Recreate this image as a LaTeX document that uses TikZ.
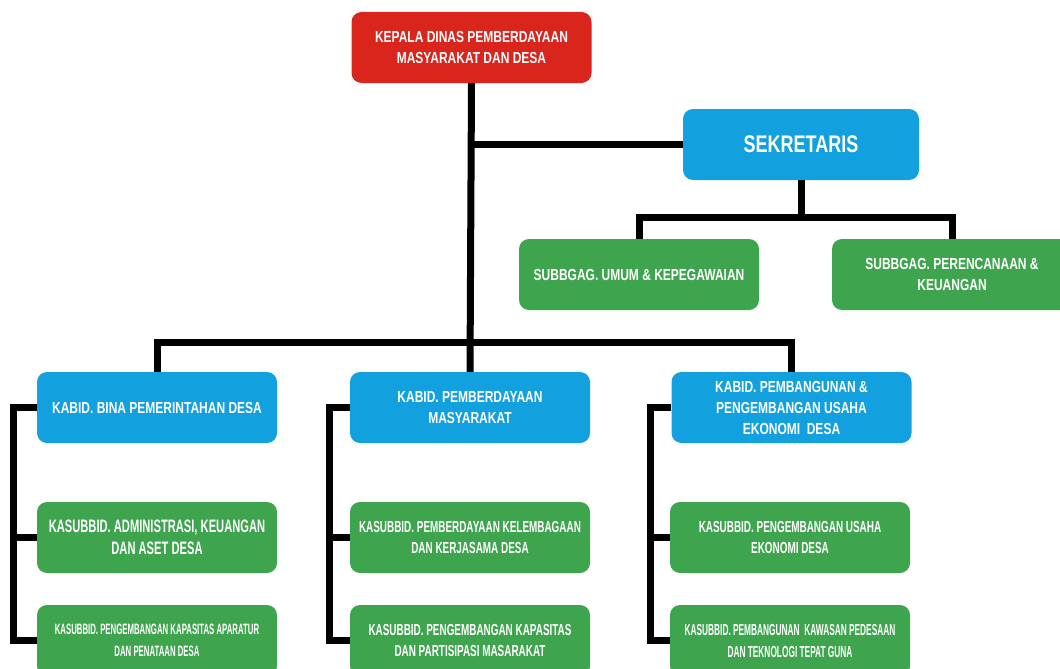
\documentclass[tikz,border=0pt]{standalone}
\usepackage{fontspec}
\newfontfamily\fA{Liberation Sans}[FakeStretch=0.75]
\newfontfamily\fB{Liberation Sans}[FakeStretch=0.62]
\newfontfamily\fC{Liberation Sans}[FakeStretch=0.52]
\definecolor{cred}{RGB}{218,37,29}
\definecolor{cblue}{RGB}{18,160,222}
\definecolor{cgreen}{RGB}{62,164,78}
\tikzset{
  box/.style={rounded corners=10pt, minimum width=240pt, minimum height=71pt, inner sep=0pt, align=center, text=white},
  redbox/.style={box, fill=cred, font=\fA\bfseries\fontsize{16}{21}\selectfont},
  bluebox/.style={box, fill=cblue, font=\fA\bfseries\fontsize{16}{21}\selectfont},
  greenbox/.style={box, fill=cgreen, font=\fA\bfseries\fontsize{16}{21}\selectfont},
  kasub/.style={box, fill=cgreen, font=\fB\bfseries\fontsize{16}{21}\selectfont},
  conn/.style={line width=7pt, black, line join=miter}
}
\begin{document}
\begin{tikzpicture}[x=1pt,y=-1pt]
\useasboundingbox (0,0) rectangle (1060,669);
\clip (0,0) rectangle (1060,669);
\fill[white] (0,0) rectangle (1060,669);
% nodes
\node[redbox] (kd) at (471.5,47.5) {KEPALA DINAS PEMBERDAYAAN\\MASYARAKAT DAN DESA};
\node[bluebox, minimum width=236pt, font=\fA\bfseries\fontsize{24}{28}\selectfont] (sek) at (801,144.5) {SEKRETARIS};
\node[greenbox] (s1) at (639,274.5) {SUBBGAG. UMUM \& KEPEGAWAIAN};
\node[greenbox] (s2) at (952,274.5) {SUBBGAG. PERENCANAAN \&\\KEUANGAN};
\node[bluebox] (b1) at (157,407.5) {KABID. BINA PEMERINTAHAN DESA};
\node[bluebox] (b2) at (470,407.5) {KABID. PEMBERDAYAAN\\MASYARAKAT};
\node[bluebox] (b3) at (791.5,407.5) {KABID. PEMBANGUNAN \&\\PENGEMBANGAN USAHA\\EKONOMI\ \ DESA};
\node[kasub, font=\fB\bfseries\fontsize{18}{22}\selectfont] (g11) at (157,537.5) {KASUBBID. ADMINISTRASI, KEUANGAN\\DAN ASET DESA};
\node[kasub, font=\fC\bfseries\fontsize{15}{22}\selectfont] (g12) at (157,640.5) {KASUBBID. PENGEMBANGAN KAPASITAS APARATUR\\DAN PENATAAN DESA};
\node[kasub] (g21) at (470,537.5) {KASUBBID. PEMBERDAYAAN KELEMBAGAAN\\DAN KERJASAMA DESA};
\node[kasub] (g22) at (470,640.5) {KASUBBID. PENGEMBANGAN KAPASITAS\\DAN PARTISIPASI MASARAKAT};
\node[kasub] (g31) at (790,537.5) {KASUBBID. PENGEMBANGAN USAHA\\EKONOMI DESA};
\node[kasub, font=\fC\bfseries\fontsize{16}{22}\selectfont] (g32) at (790,640.5) {KASUBBID. PEMBANGUNAN\ \ KAWASAN PEDESAAN\\DAN TEKNOLOGI TEPAT GUNA};
% connectors
\draw[conn] (kd.south) -- (b2.north);
\draw[conn] (sek.west) -- (sek.west -| kd.south);
\draw[conn] (sek.south) -- ++(0,38);
\draw[conn] (s1.north) -- ++(0,-21) -| (s2.north);
\draw[conn] (b1.north) -- ++(0,-29) -| (b3.north);
\draw[conn] (b1.west) -- ++(-23,0) |- (g12.west);
\draw[conn] (g11.west) -- ++(-23,0);
\draw[conn] (b2.west) -- ++(-20,0) |- (g22.west);
\draw[conn] (g21.west) -- ++(-20,0);
\draw[conn] (b3.west) -- ++(-21,0) |- (g32.west);
\draw[conn] (g31.west) -- ++(-20,0);
\end{tikzpicture}
\end{document}
